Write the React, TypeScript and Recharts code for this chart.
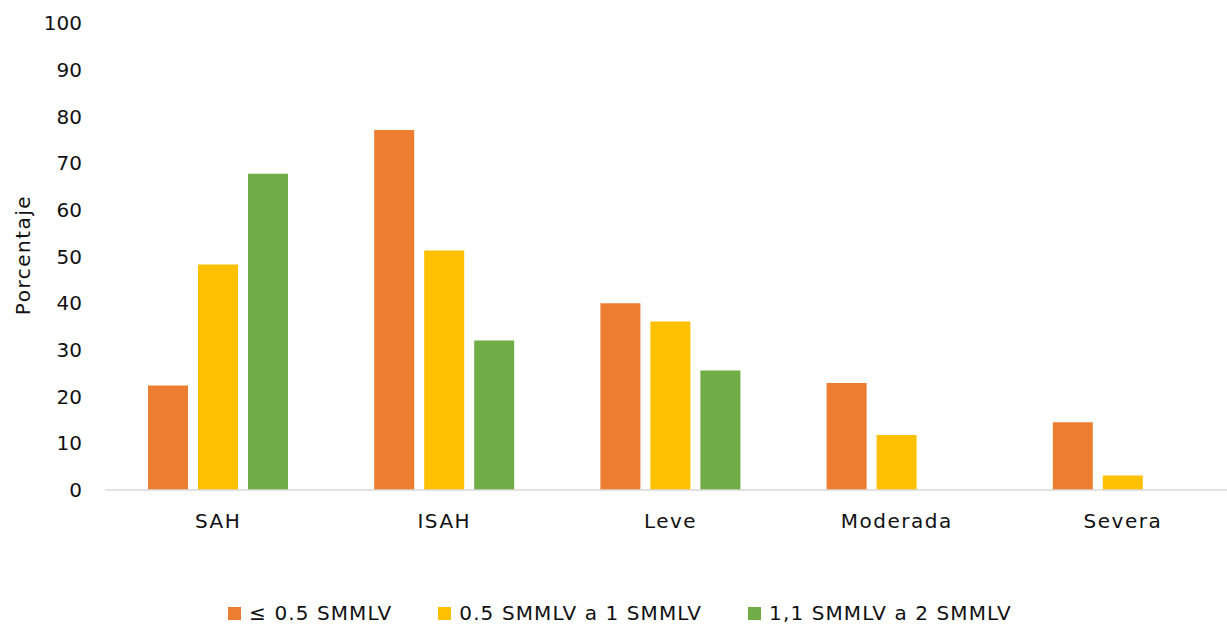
import { BarChart, Bar, XAxis, YAxis, Legend } from 'recharts'

const categories = ['SAH', 'ISAH', 'Leve', 'Moderada', 'Severa']
const bajo = [22.4, 77.1, 40.0, 22.9, 14.5]
const medio = [48.3, 51.3, 36.1, 11.8, 3.1]
const alto = [67.7, 32.0, 25.6, 0, 0]
const yTicks = [0, 10, 20, 30, 40, 50, 60, 70, 80, 90, 100]

const seriesNames = ['≤ 0.5 SMMLV', '0.5 SMMLV a 1 SMMLV', '1,1 SMMLV a 2 SMMLV']
const colors = ['#ED7D31', '#FFC000', '#70AD47']

const chartData = categories.map((name, i) => ({
  name,
  bajo: bajo[i],
  medio: medio[i],
  alto: alto[i],
}))

const FONT = '"DejaVu Sans", Verdana, sans-serif'

function LegendContent() {
  return (
    <div
      style={{
        height: 22,
        display: 'flex',
        justifyContent: 'center',
        alignItems: 'center',
        gap: 46,
        fontFamily: FONT,
        fontSize: 20,
        letterSpacing: 1.1,
        color: '#111',
      }}
    >
      {seriesNames.map((s, i) => (
        <div key={s} style={{ display: 'flex', alignItems: 'center' }}>
          <span style={{ width: 13, height: 13, background: colors[i], marginRight: 8 }} />
          <span>{s}</span>
        </div>
      ))}
    </div>
  )
}

function YTitle() {
  return (
    <text
      x={23}
      y={255}
      transform="rotate(-90, 23, 255)"
      textAnchor="middle"
      dominantBaseline="central"
      fontFamily={FONT}
      fontSize={20}
      letterSpacing={1.5}
      fill="#111"
    >
      Porcentaje
    </text>
  )
}

export default function App() {
  return (
    <div
      style={{
        position: 'fixed',
        left: 0,
        top: 0,
        width: 1227,
        height: 624,
        overflow: 'hidden',
        background: '#fff',
      }}
    >
      <BarChart
        width={1240}
        height={624}
        data={chartData}
        margin={{ top: 23, right: 4, left: 0, bottom: 0 }}
        barSize={40}
        barGap={10}
      >
        <XAxis
          dataKey="name"
          height={112}
          tickLine={false}
          tickSize={0}
          tickMargin={24}
          axisLine={{ stroke: '#D9D9D9', strokeWidth: 1.5 }}
          tick={{ fill: '#111', fontSize: 20, fontFamily: FONT, letterSpacing: 1.5 }}
        />
        <YAxis
          width={105}
          domain={[0, 100]}
          ticks={yTicks}
          interval={0}
          tickLine={false}
          tickSize={0}
          tickMargin={23}
          axisLine={false}
          tick={{ fill: '#111', fontSize: 20, fontFamily: FONT }}
          label={<YTitle />}
        />
        <Legend
          verticalAlign="bottom"
          height={22}
          content={<LegendContent />}
          wrapperStyle={{ left: 0, width: 1240 }}
        />
        <Bar dataKey="bajo" name={seriesNames[0]} fill={colors[0]} isAnimationActive={false} />
        <Bar dataKey="medio" name={seriesNames[1]} fill={colors[1]} isAnimationActive={false} />
        <Bar dataKey="alto" name={seriesNames[2]} fill={colors[2]} isAnimationActive={false} />
      </BarChart>
    </div>
  )
}
